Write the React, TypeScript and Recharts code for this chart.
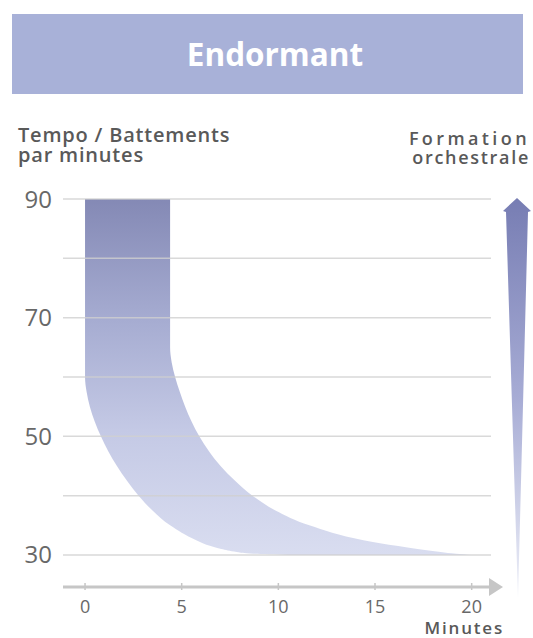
import { AreaChart, Area, XAxis, YAxis, ReferenceLine, Customized } from "recharts";

// band read as horizontal spans: for each tempo (bpm), the minutes where the band starts and ends
const tempo = [90, 65, 62.5, 60, 57.5, 55, 52.5, 50, 47.5, 45, 42.5, 40, 37.5, 35, 32.5, 31.5, 31, 30.5, 30.2, 30];
const startMin = [0, 0, 0, 0, 0.08, 0.25, 0.5, 0.82, 1.2, 1.65, 2.17, 2.77, 3.49, 4.4, 5.75, 6.5, 7.05, 7.85, 8.7, 10.5];
const endMin = [4.4, 4.4, 4.48, 4.66, 4.9, 5.18, 5.51, 5.91, 6.41, 7.01, 7.76, 8.66, 9.85, 11.6, 14.4, 16.2, 17.2, 18.4, 19.2, 20];

const xTicks = [0, 5, 10, 15, 20];
const yTicks = [30, 50, 70, 90];
const gridLevels = [30, 40, 50, 60, 70, 80, 90];

const data = tempo.map((t, i) => ({ t, span: [startMin[i], endMin[i]] }));

const font = "'Open Sans', sans-serif";
const labelColor = "#686868";
const textColor = "#595959";
const axisColor = "#c6c6c6";

function XTick({ x, y, payload }: any) {
  return (
    <g>
      <line x1={x} x2={x} y1={y - 4} y2={y + 3} stroke={axisColor} strokeWidth={1.5} />
      <text x={x} y={y + 26} textAnchor="middle" fontSize={18} fontFamily={font} fill={labelColor}>
        {payload.value}
      </text>
    </g>
  );
}

function Decorations() {
  return (
    <g>
      <defs>
        <linearGradient id="orch" x1="0" y1="0" x2="0" y2="1">
          <stop offset="0%" stopColor="#777db3" />
          <stop offset="50%" stopColor="#a7acd5" />
          <stop offset="100%" stopColor="#eef0f8" />
        </linearGradient>
      </defs>
      {/* arrow head at the end of the time axis */}
      <polygon points="489,578 503,587 489,596" fill={axisColor} />
      {/* orchestral formation arrow */}
      <polygon points="517,198 531,211 528,212 518,598 506,212 503,211" fill="url(#orch)" />
    </g>
  );
}

export default function App() {
  return (
    <div style={{ position: "relative", width: 533, height: 638, background: "#fff", fontFamily: font, overflow: "hidden" }}>
      <style>{"body{margin:0}"}</style>
      <div
        style={{
          position: "absolute",
          left: 12,
          top: 14,
          width: 496,
          height: 80,
          paddingLeft: 15,
          background: "#a8b1d8",
          color: "#fff",
          fontWeight: 700,
          fontSize: 31.5,
          lineHeight: "80px",
          textAlign: "center",
        }}
      >
        Endormant
      </div>
      <div
        style={{
          position: "absolute",
          left: 18,
          top: 125,
          fontSize: 20,
          fontWeight: 600,
          lineHeight: "20px",
          color: textColor,
          letterSpacing: 0.8,
          whiteSpace: "nowrap",
        }}
      >
        Tempo / Battements
        <br />
        par minutes
      </div>
      <div
        style={{
          position: "absolute",
          right: 3,
          top: 129,
          fontSize: 18,
          fontWeight: 600,
          lineHeight: "19px",
          color: textColor,
          textAlign: "right",
          whiteSpace: "nowrap",
        }}
      >
        <span style={{ letterSpacing: 3.4 }}>Formation</span>
        <br />
        <span style={{ letterSpacing: 1.7 }}>orchestrale</span>
      </div>
      <div
        style={{
          position: "absolute",
          right: 29,
          top: 619,
          fontSize: 17,
          fontWeight: 600,
          lineHeight: "17px",
          color: textColor,
          letterSpacing: 1.8,
          whiteSpace: "nowrap",
        }}
      >
        Minutes
      </div>
      <div style={{ position: "absolute", left: 0, top: 0 }}>
        <AreaChart
          width={533}
          height={638}
          data={data}
          layout="vertical"
          margin={{ top: 199, right: 42, bottom: 0, left: 0 }}
        >
          <defs>
            <linearGradient id="band" x1="0" y1="0" x2="0" y2="1">
              <stop offset="0%" stopColor="#8489b5" />
              <stop offset="35%" stopColor="#a7add2" />
              <stop offset="65%" stopColor="#c4c9e5" />
              <stop offset="100%" stopColor="#d9ddf0" />
            </linearGradient>
          </defs>
          <XAxis
            type="number"
            domain={[-1.14, 21]}
            ticks={xTicks}
            allowDataOverflow
            height={51}
            axisLine={{ stroke: axisColor, strokeWidth: 3 }}
            tickLine={false}
            tickSize={0}
            tickMargin={0}
            tick={<XTick />}
          />
          <YAxis
            dataKey="t"
            type="number"
            reversed
            domain={[24.6, 90]}
            ticks={yTicks}
            allowDataOverflow
            width={63}
            axisLine={false}
            tickLine={false}
            tickSize={0}
            tickMargin={11}
            tick={{ fontSize: 24, fill: labelColor, fontFamily: font }}
          />
          <Area
            type="monotone"
            dataKey="span"
            stroke="none"
            fill="url(#band)"
            fillOpacity={1}
            isAnimationActive={false}
            activeDot={false}
            dot={false}
          />
          {gridLevels.map((v) => (
            <ReferenceLine key={v} y={v} stroke="#d0d0d0" strokeWidth={1.5} strokeOpacity={0.8} />
          ))}
          <Customized component={Decorations} />
        </AreaChart>
      </div>
    </div>
  );
}
